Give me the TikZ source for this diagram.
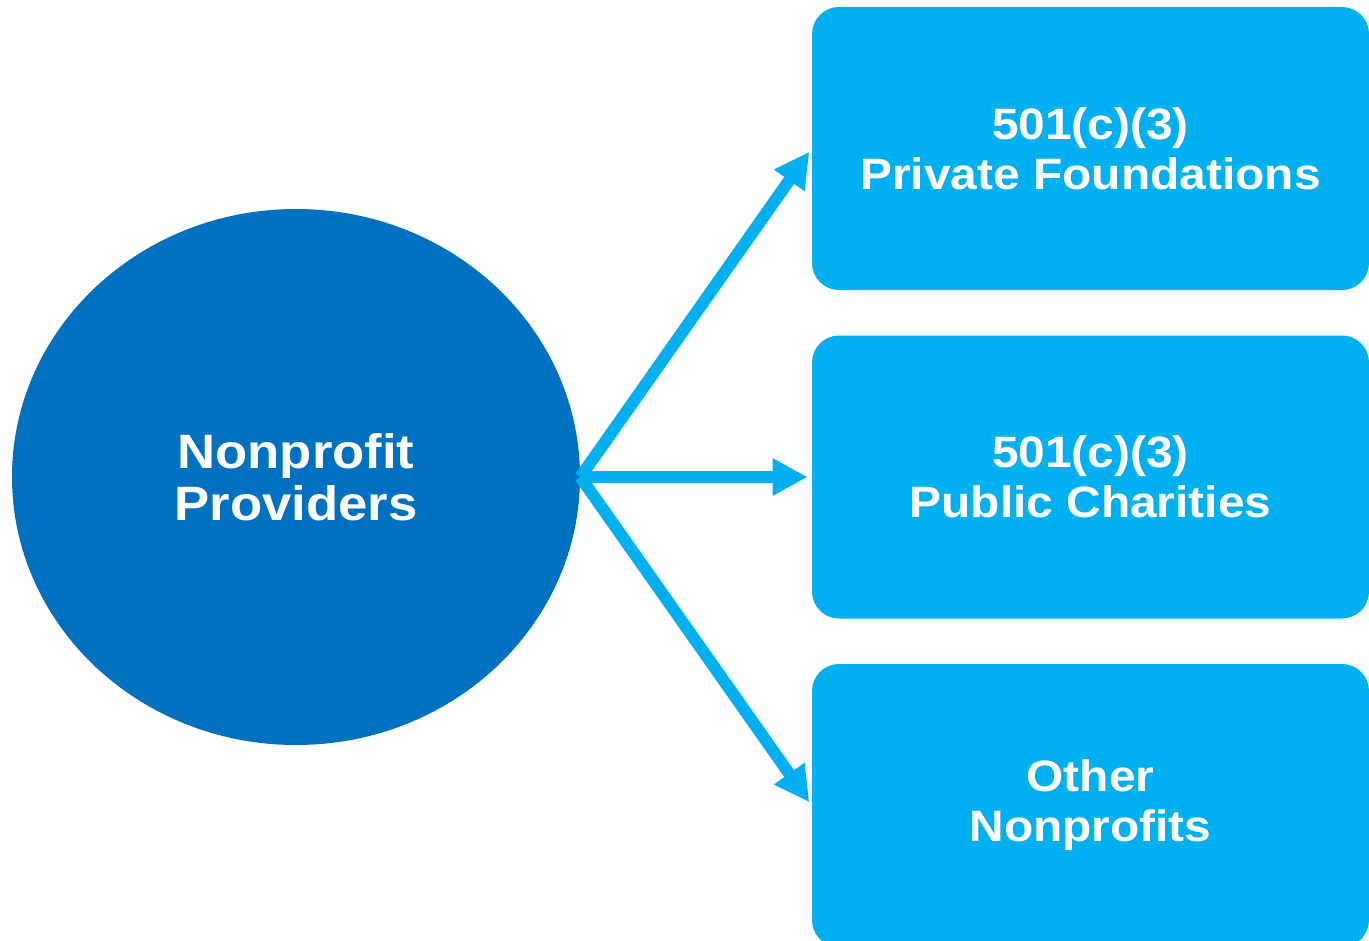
\documentclass[tikz,border=0pt]{standalone}
\usepackage{fontspec}
\setmainfont[FakeStretch=1.09]{Liberation Sans}
\usetikzlibrary{arrows.meta,shapes.geometric}
\definecolor{darkblue}{HTML}{0070C0}
\definecolor{lightblue}{HTML}{00B0F0}

\begin{document}
\begin{tikzpicture}[
    node distance=6.57cm,
    provider/.style={ellipse, fill=darkblue, minimum width=11.36cm, minimum height=10.72cm, inner sep=0pt, align=center, text=white, font=\fontsize{27.5}{29.5}\selectfont\bfseries},
    category/.style={rectangle, fill=lightblue, minimum width=11.14cm, minimum height=5.66cm, align=center, rounded corners=0.54cm, text=white, font=\fontsize{25}{28.5}\selectfont\bfseries},
    arrow/.style={-{Triangle[length=0.7cm, width=0.7cm]}, line width=0.24cm, lightblue, shorten >=0.08cm}
]
\useasboundingbox (0,0) rectangle (27.38,-18.82);

\node[provider] (providers) at (5.92,-9.54) {Nonprofit\\Providers};
\node[category] (private) at (21.81,-2.97) {501(c)(3)\\Private Foundations};
\node[category, below of=private] (public) {501(c)(3)\\Public Charities};
\node[category, below of=public] (other) {Other\\Nonprofits};

\draw[arrow] (providers.east) -- (private.west);
\draw[arrow] (providers.east) -- (public.west);
\draw[arrow] (providers.east) -- (other.west);
\end{tikzpicture}
\end{document}
